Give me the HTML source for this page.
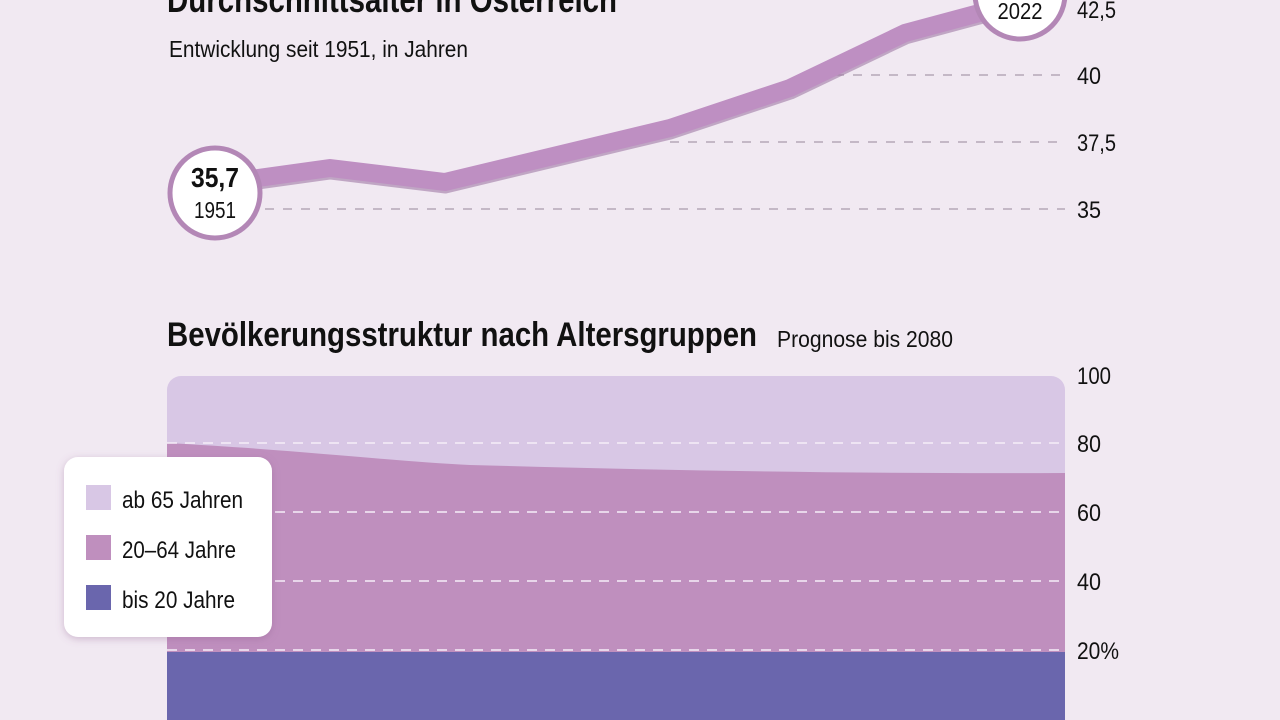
<!DOCTYPE html>
<html><head><meta charset="utf-8"><style>
html,body{margin:0;padding:0;background:#f1e9f2;width:1280px;height:720px;overflow:hidden;}
svg{display:block}
text{font-family:"Liberation Sans Narrow","Liberation Sans",sans-serif;fill:#111;}
</style></head><body>
<svg width="1280" height="720" viewBox="0 0 1280 720" xmlns="http://www.w3.org/2000/svg">
<defs>
<filter id="sh" x="-20%" y="-20%" width="140%" height="140%"><feDropShadow dx="0" dy="2" stdDeviation="4" flood-color="#8a5a8a" flood-opacity="0.35"/></filter>
<clipPath id="area"><rect x="167" y="376" width="898" height="360" rx="14"/></clipPath>
</defs>
<rect width="1280" height="720" fill="#f1e9f2"/>
<text x="167" y="12" font-size="36" font-weight="bold" textLength="450" lengthAdjust="spacingAndGlyphs">Durchschnittsalter in Österreich</text>
<text x="169" y="57" font-size="23" textLength="299" lengthAdjust="spacingAndGlyphs">Entwicklung seit 1951, in Jahren</text>
<g stroke="#a99aab" stroke-width="1.3" stroke-dasharray="9,9">
<line x1="265" y1="209" x2="1065" y2="209"/>
<line x1="670" y1="142" x2="1065" y2="142"/>
<line x1="835" y1="75" x2="1065" y2="75"/>
</g>
<g font-size="24">
<text x="1077" y="218" textLength="24" lengthAdjust="spacingAndGlyphs">35</text>
<text x="1077" y="151" textLength="39" lengthAdjust="spacingAndGlyphs">37,5</text>
<text x="1077" y="84" textLength="24" lengthAdjust="spacingAndGlyphs">40</text>
<text x="1077" y="18" textLength="39" lengthAdjust="spacingAndGlyphs">42,5</text>
</g>
<polyline points="215,184 330,168 445,182 670,128 790,88 905,33 1020,2" fill="none" stroke="#a07aa5" stroke-width="19" stroke-linejoin="round" transform="translate(0,2)" opacity="0.6"/>
<polyline points="215,184 330,168 445,182 670,128 790,88 905,33 1020,2" fill="none" stroke="#be8fc2" stroke-width="18" stroke-linejoin="round"/>
<circle cx="215" cy="193" r="45" fill="#fff" stroke="#b387b6" stroke-width="5"/>
<text x="215" y="187" font-size="28" font-weight="bold" text-anchor="middle" textLength="48" lengthAdjust="spacingAndGlyphs">35,7</text>
<text x="215" y="218" font-size="23" text-anchor="middle" textLength="42" lengthAdjust="spacingAndGlyphs">1951</text>
<circle cx="1020" cy="-6" r="45" fill="#fff" stroke="#b387b6" stroke-width="5"/>
<text x="1020" y="19" font-size="23" text-anchor="middle" textLength="45" lengthAdjust="spacingAndGlyphs">2022</text>

<text x="167" y="346" font-size="34" font-weight="bold" textLength="590" lengthAdjust="spacingAndGlyphs">Bevölkerungsstruktur nach Altersgruppen</text>
<text x="777" y="347" font-size="23" textLength="176" lengthAdjust="spacingAndGlyphs">Prognose bis 2080</text>

<g clip-path="url(#area)">
<rect x="167" y="376" width="898" height="344" fill="#d8c7e5"/>
<path d="M167,443 C300,450 400,462 470,465 C650,470 850,474 1065,473 L1065,720 L167,720Z" fill="#bf8fbe"/>
<rect x="167" y="652" width="898" height="68" fill="#6a66ad"/>
<g stroke="#f6eef8" stroke-width="1.5" stroke-dasharray="10,8">
<line x1="167" y1="443" x2="1065" y2="443"/>
<line x1="167" y1="512" x2="1065" y2="512"/>
<line x1="167" y1="581" x2="1065" y2="581"/>
<line x1="167" y1="650" x2="1065" y2="650"/>
</g>
</g>
<g font-size="24">
<text x="1077" y="384" textLength="34" lengthAdjust="spacingAndGlyphs">100</text>
<text x="1077" y="452" textLength="24" lengthAdjust="spacingAndGlyphs">80</text>
<text x="1077" y="521" textLength="24" lengthAdjust="spacingAndGlyphs">60</text>
<text x="1077" y="590" textLength="24" lengthAdjust="spacingAndGlyphs">40</text>
<text x="1077" y="659" textLength="42" lengthAdjust="spacingAndGlyphs">20%</text>
</g>
<rect x="64" y="457" width="208" height="180" rx="14" fill="#fff" filter="url(#sh)"/>
<rect x="86" y="485" width="25" height="25" fill="#d8c7e5"/>
<rect x="86" y="535" width="25" height="25" fill="#bf8fbe"/>
<rect x="86" y="585" width="25" height="25" fill="#6a66ad"/>
<g font-size="24">
<text x="122" y="508" textLength="121" lengthAdjust="spacingAndGlyphs">ab 65 Jahren</text>
<text x="122" y="558" textLength="114" lengthAdjust="spacingAndGlyphs">20–64 Jahre</text>
<text x="122" y="608" textLength="113" lengthAdjust="spacingAndGlyphs">bis 20 Jahre</text>
</g>
</svg>
</body></html>
